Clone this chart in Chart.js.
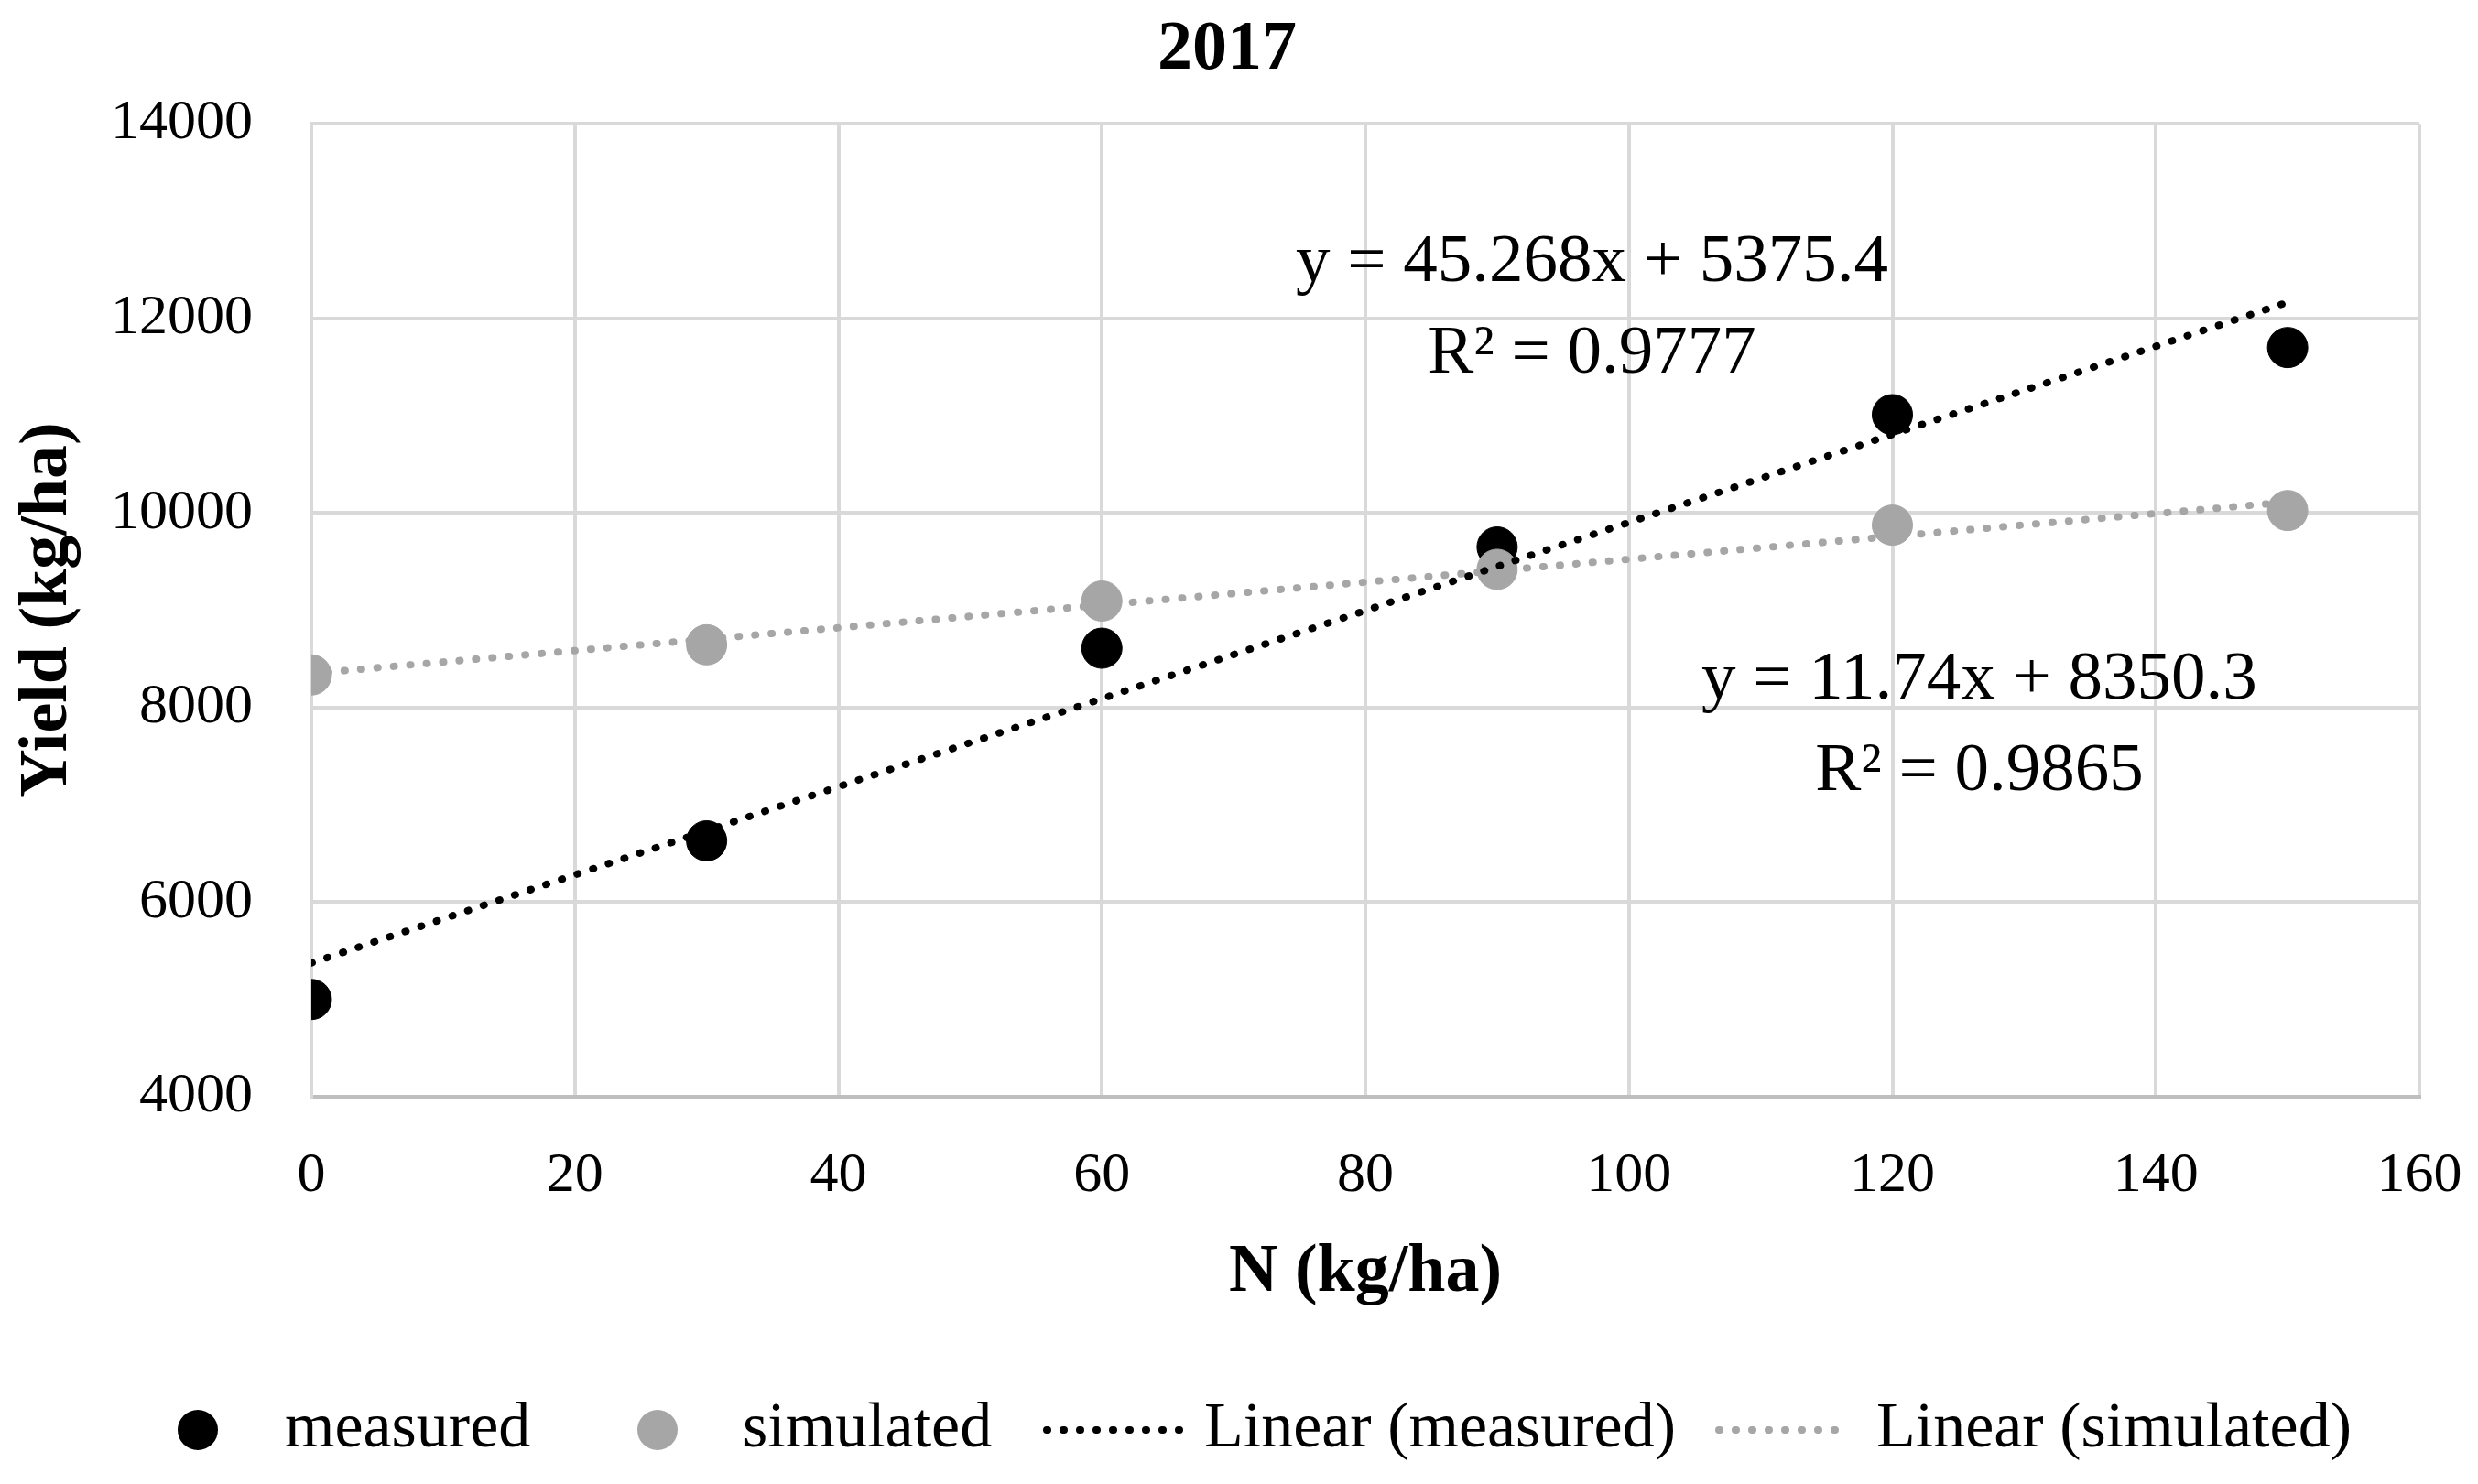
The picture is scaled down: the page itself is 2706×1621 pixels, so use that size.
<!DOCTYPE html>
<html>
<head>
<meta charset="utf-8">
<title>2017</title>
<script src="https://cdn.jsdelivr.net/npm/chart.js@4.4.1/dist/chart.umd.min.js"></script>
<style>
  body { margin: 0; background: #fff; }
  canvas { display: block; }
</style>
</head>
<body>
<canvas id="yieldChart" width="2706" height="1621"></canvas>
<script>
const nRates = [0, 30, 60, 90, 120, 150];
const measuredYield = [5000, 6630, 8610, 9650, 11010, 11700];
const simulatedYield = [8335, 8645, 9095, 9420, 9875, 10025];

const trendX = [0, 150];
const trendMeasured = [5375.4, 12165.6];
const trendSimulated = [8350.3, 10111.3];

const xTicks = [0, 20, 40, 60, 80, 100, 120, 140, 160];
const yTicks = [4000, 6000, 8000, 10000, 12000, 14000];

const measuredEq = ['y = 45.268x + 5375.4', 'R² = 0.9777'];
const simulatedEq = ['y = 11.74x + 8350.3', 'R² = 0.9865'];
const legendLabels = ['measured', 'simulated', 'Linear (measured)', 'Linear (simulated)'];

const serif = "'Liberation Serif', 'Times New Roman', serif";
const black = '#000000';
const grey = '#a6a6a6';
const gridGrey = '#d9d9d9';
const dots = [1, 17];

const toPoints = (xs, ys) => xs.map((x, i) => ({ x, y: ys[i] }));

// Equation labels, placed in data coordinates
const equationPlugin = {
  id: 'equations',
  afterDatasetsDraw(chart) {
    const { ctx, scales: { x, y } } = chart;
    ctx.save();
    ctx.fillStyle = black;
    ctx.font = `75px ${serif}`;
    ctx.textAlign = 'center';
    ctx.textBaseline = 'middle';
    ctx.fillText(measuredEq[0], x.getPixelForValue(97.2), y.getPixelForValue(12570));
    ctx.fillText(measuredEq[1], x.getPixelForValue(97.2), y.getPixelForValue(11630));
    ctx.fillText(simulatedEq[0], x.getPixelForValue(126.6), y.getPixelForValue(8280));
    ctx.fillText(simulatedEq[1], x.getPixelForValue(126.6), y.getPixelForValue(7340));
    ctx.restore();
  }
};

// Legend drawn by hand so the dotted trend samples match the original
const legendPlugin = {
  id: 'bottomLegend',
  afterDraw(chart) {
    const ctx = chart.ctx;
    const y = 1562;
    ctx.save();
    ctx.font = `70px ${serif}`;
    ctx.textBaseline = 'middle';

    ctx.beginPath();
    ctx.arc(216, y, 22, 0, Math.PI * 2);
    ctx.fillStyle = black;
    ctx.fill();
    ctx.beginPath();
    ctx.arc(718, y, 22, 0, Math.PI * 2);
    ctx.fillStyle = grey;
    ctx.fill();

    ctx.lineWidth = 8;
    ctx.lineCap = 'round';
    ctx.setLineDash(dots);
    ctx.strokeStyle = black;
    ctx.beginPath();
    ctx.moveTo(1143, y);
    ctx.lineTo(1289, y);
    ctx.stroke();
    ctx.strokeStyle = grey;
    ctx.beginPath();
    ctx.moveTo(1877, y);
    ctx.lineTo(2021, y);
    ctx.stroke();

    ctx.fillStyle = black;
    ctx.fillText(legendLabels[0], 311, y);
    ctx.fillText(legendLabels[1], 811, y);
    ctx.fillText(legendLabels[2], 1315, y);
    ctx.fillText(legendLabels[3], 2049, y);
    ctx.restore();
  }
};

new Chart(document.getElementById('yieldChart'), {
  type: 'scatter',
  data: {
    datasets: [
      {
        label: 'measured',
        data: toPoints(nRates, measuredYield),
        backgroundColor: black,
        borderColor: black,
        pointRadius: 22,
        pointHoverRadius: 22,
        order: 4
      },
      {
        label: 'simulated',
        data: toPoints(nRates, simulatedYield),
        backgroundColor: grey,
        borderColor: grey,
        pointRadius: 22,
        pointHoverRadius: 22,
        order: 3
      },
      {
        label: 'Linear (simulated)',
        type: 'line',
        data: toPoints(trendX, trendSimulated),
        borderColor: grey,
        borderWidth: 8,
        borderDash: dots,
        borderCapStyle: 'round',
        pointRadius: 0,
        fill: false,
        order: 2
      },
      {
        label: 'Linear (measured)',
        type: 'line',
        data: toPoints(trendX, trendMeasured),
        borderColor: black,
        borderWidth: 8,
        borderDash: dots,
        borderCapStyle: 'round',
        pointRadius: 0,
        fill: false,
        order: 1
      }
    ]
  },
  options: {
    responsive: false,
    animation: false,
    devicePixelRatio: 1,
    // small right padding keeps the title centred where the original has it;
    // the x scale itself reserves the room right of the plot
    layout: { padding: { left: 0, right: 26, top: 0, bottom: 0 } },
    plugins: {
      legend: { display: false },
      tooltip: { enabled: false },
      title: {
        display: true,
        text: '2017',
        color: black,
        font: { family: serif, size: 76, weight: 'bold' },
        padding: { top: 10, bottom: 34 }
      }
    },
    scales: {
      x: {
        type: 'linear',
        min: 0,
        max: 160,
        afterBuildTicks: scale => { scale.ticks = xTicks.map(v => ({ value: v })); },
        afterFit: scale => {
          scale.height = 423;
          scale.paddingRight = 64;
        },
        grid: { color: gridGrey, lineWidth: 4, drawTicks: false },
        border: { color: '#bfbfbf', width: 4 },
        ticks: {
          color: black,
          padding: 50,
          font: { family: serif, size: 62 },
          callback: v => String(v)
        },
        title: {
          display: true,
          text: 'N (kg/ha)',
          color: black,
          font: { family: serif, size: 74, weight: 'bold' },
          padding: { top: 0, bottom: 186 }
        }
      },
      y: {
        type: 'linear',
        min: 4000,
        max: 14000,
        afterBuildTicks: scale => { scale.ticks = yTicks.map(v => ({ value: v })); },
        afterFit: scale => { scale.width = 340; },
        grid: { color: gridGrey, lineWidth: 4, drawTicks: false },
        border: { color: gridGrey, width: 4 },
        ticks: {
          color: black,
          padding: 64,
          font: { family: serif, size: 62 },
          callback: v => String(v)
        },
        title: {
          display: true,
          text: 'Yield (kg/ha)',
          color: black,
          font: { family: serif, size: 74, weight: 'bold' },
          padding: { top: 8, bottom: 0 }
        }
      }
    }
  },
  plugins: [equationPlugin, legendPlugin]
});
</script>
</body>
</html>
